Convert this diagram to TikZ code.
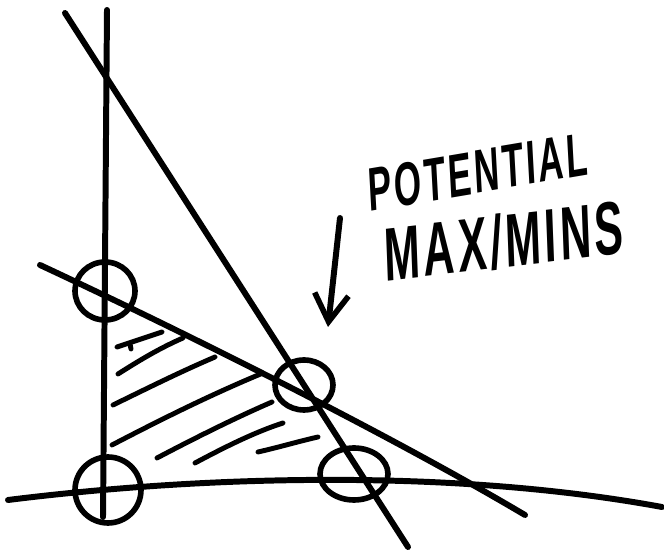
\documentclass[tikz,border=0pt]{standalone}
\usepackage{fontspec}
\setmainfont{Liberation Sans}
\usetikzlibrary{arrows.meta}
\usetikzlibrary{shapes.geometric}

\tikzset{
  pen/.style={line width=3.4pt,line cap=round,line join=round},
  hatchline/.style={line width=2.8pt,line cap=round},
  ring/.style={draw,ellipse,line width=3.2pt,inner sep=0pt},
  scrawl/.style={text=black,inner sep=0pt}
}

\begin{document}
\begin{tikzpicture}[x=0.02cm,y=-0.02cm]
\useasboundingbox (0,0) rectangle (664,550);

% the four lines
\coordinate (vtop) at (107,10);
\coordinate (vbot) at (103,517);
\coordinate (stop) at (65,13);
\coordinate (sbot) at (408,547);
\coordinate (shl) at (40,265);
\coordinate (shr) at (525,515);
\coordinate (bl) at (8,500);
\coordinate (br) at (662,507);
\draw[pen] (vtop) -- (vbot);
\draw[pen] (stop) -- (sbot);
\draw[pen] (shl) .. controls (190,335) and (390,435) .. (shr);
\draw[pen] (bl) .. controls (200,476) and (450,468) .. (br);

% hatching of the region
\draw[hatchline] (117,347) -- (162,332);
\draw[hatchline] (130,344) -- (131,349);
\draw[hatchline] (118,374) .. controls (140,360) and (160,348) .. (183,338);
\draw[hatchline] (113,405) .. controls (150,387) and (180,372) .. (215,357);
\draw[hatchline] (112,445) .. controls (160,420) and (210,395) .. (263,373);
\draw[hatchline] (157,458) .. controls (195,438) and (235,418) .. (272,402);
\draw[hatchline] (195,463) .. controls (225,447) and (255,432) .. (283,423);
\draw[hatchline] (258,452) .. controls (280,447) and (300,441) .. (318,437);

% circled corners
\node[ring,minimum width=1.2cm,minimum height=1.16cm] (c1) at (105,291) {};
\node[ring,minimum width=1.16cm,minimum height=1.0cm] (c2) at (304,385) {};
\node[ring,minimum width=1.32cm,minimum height=1.32cm] (c3) at (108,490) {};
\node[ring,minimum width=1.36cm,minimum height=1.04cm] (c4) at (354,474) {};

% label and arrow
\node[scrawl,font=\bfseries\fontsize{35}{35}\selectfont\addfontfeatures{LetterSpace=8},xscale=0.57,rotate=5.5] (pot) at (478,172) {POTENTIAL};
\node[scrawl,font=\bfseries\fontsize{43}{43}\selectfont\addfontfeatures{LetterSpace=8},xscale=0.57,rotate=3.8] (mm) at (504,241) {MAX/MINS};
\coordinate (atop) at (340,218);
\coordinate (tip) at (328,327);
\draw[pen,-{Straight Barb[length=0.55cm,width=0.68cm,line width=3.2pt]}] (atop) -- (tip);

\end{tikzpicture}
\end{document}
